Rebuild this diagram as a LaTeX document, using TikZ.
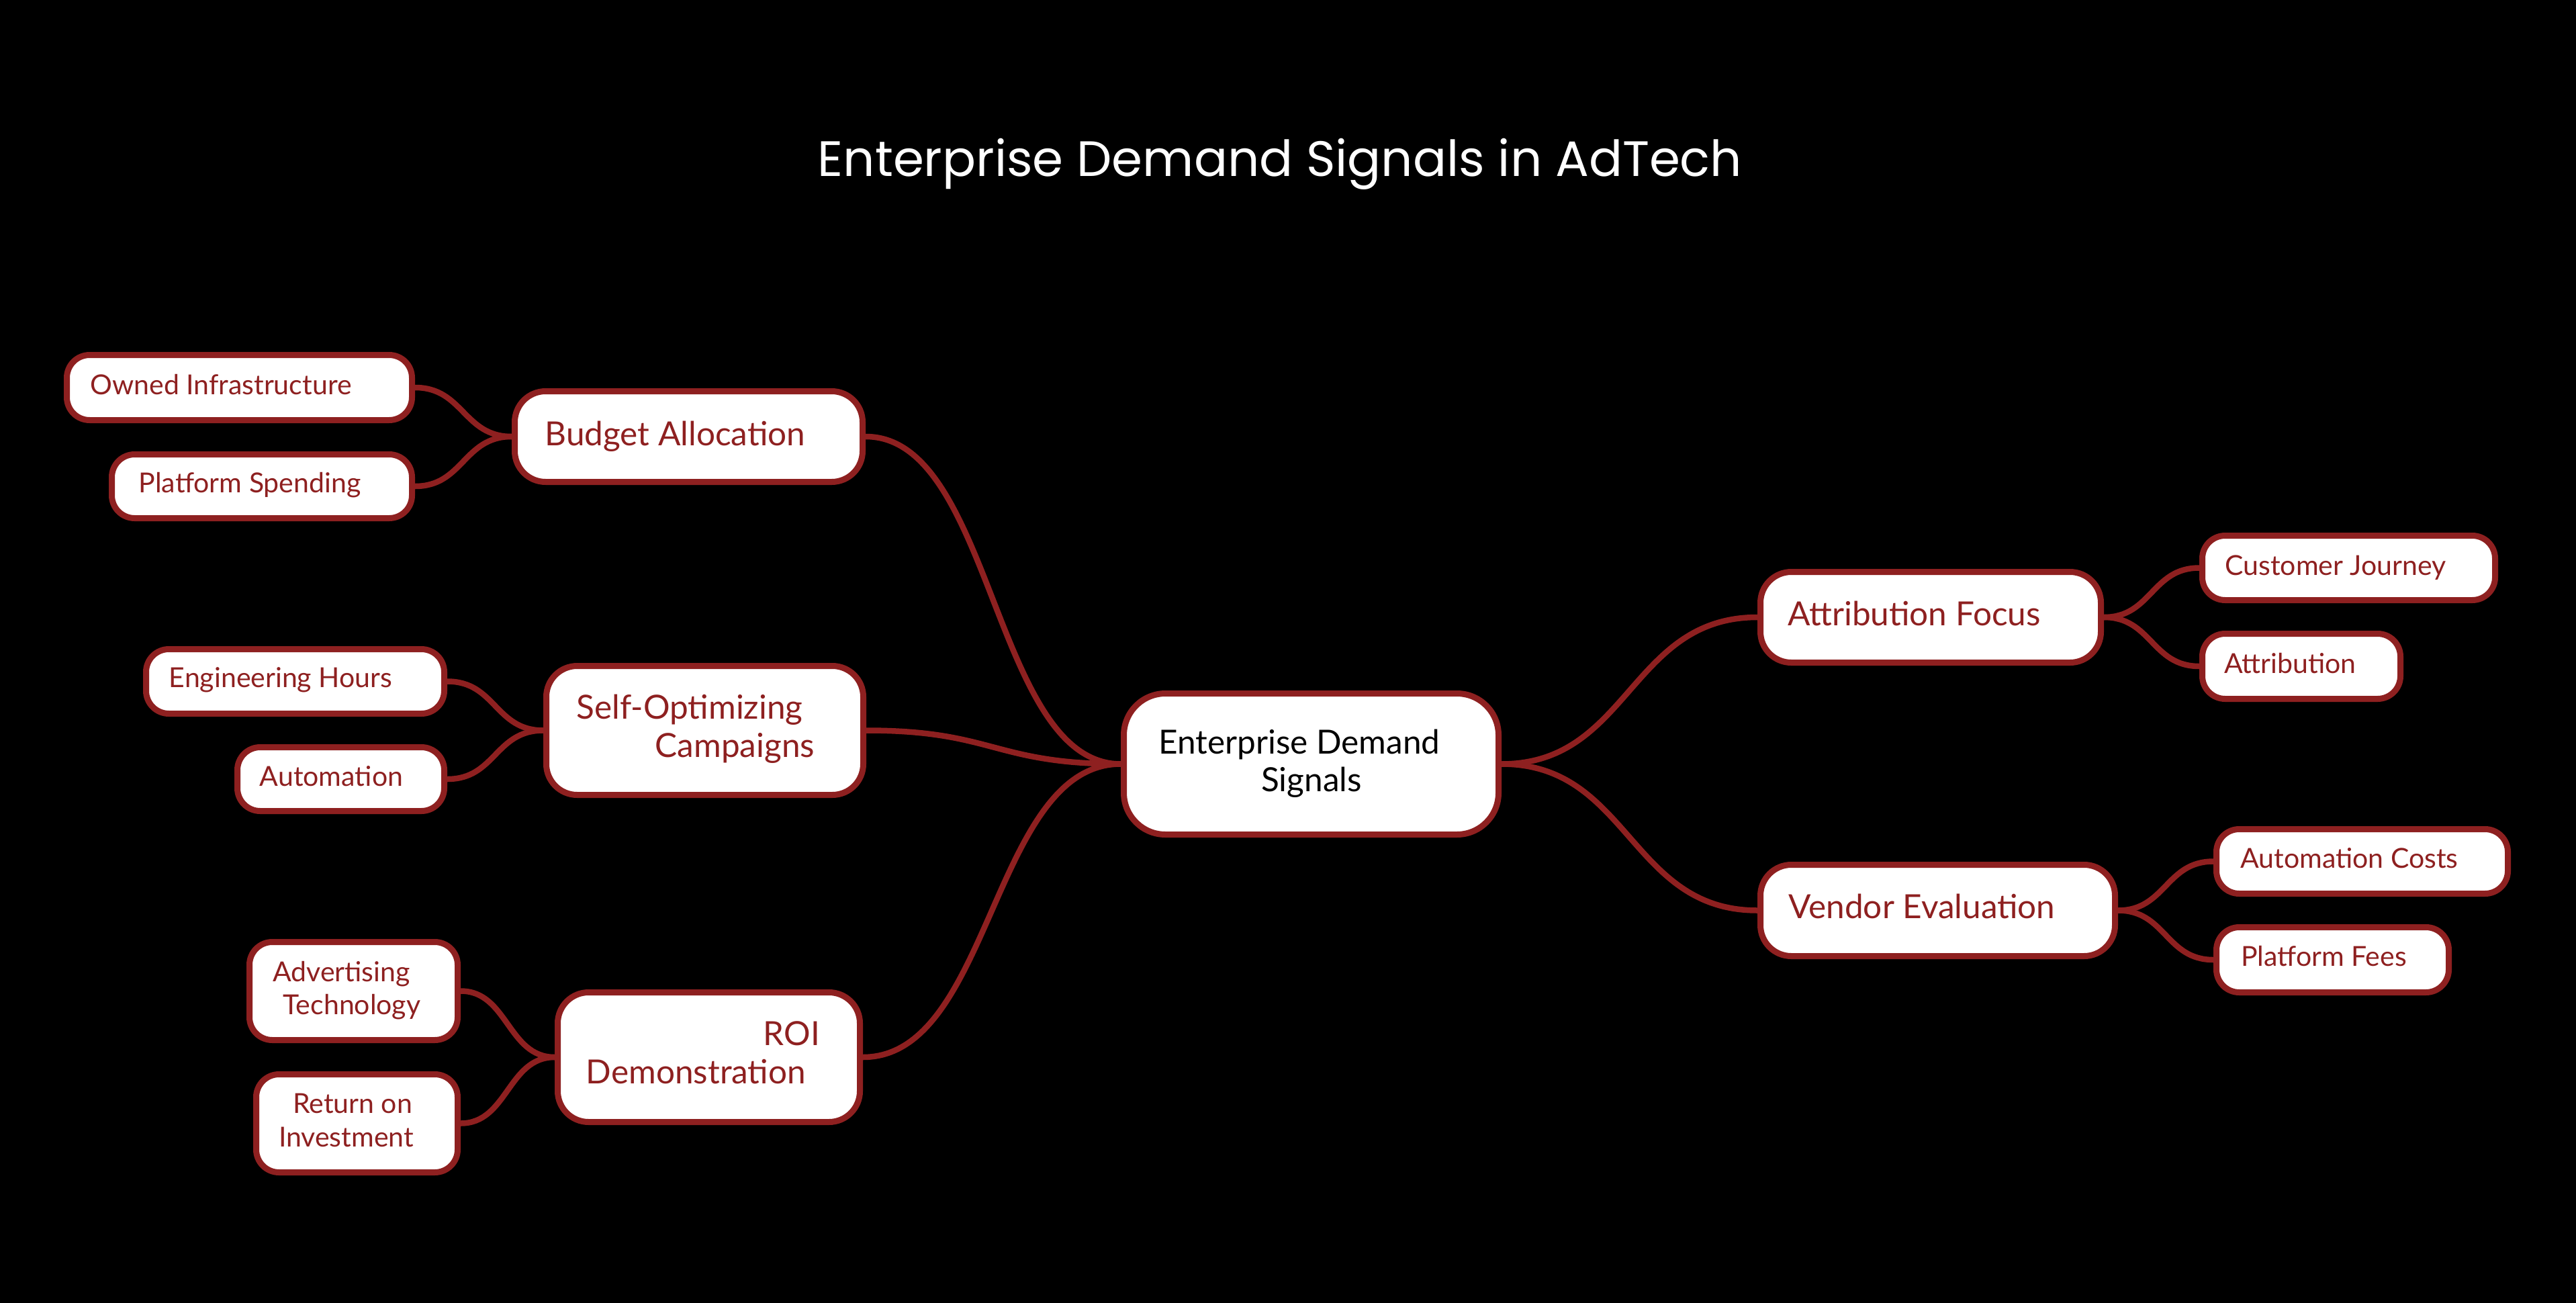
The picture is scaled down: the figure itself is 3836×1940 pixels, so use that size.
\documentclass[tikz,border=0pt]{standalone}
\usepackage{fontspec}
\setmainfont{Lato}
\newfontfamily\titlefont{Poppins}
\definecolor{mred}{RGB}{142,32,32}
\begin{document}
\begin{tikzpicture}[x=1pt,y=-1pt,
  rbox/.style={draw=mred,fill=white,line width=9pt,rounded corners=62pt,inner sep=0pt},
  mbox/.style={draw=mred,fill=white,line width=9pt,rounded corners=46pt,inner sep=0pt},
  sbox/.style={draw=mred,fill=white,line width=9pt,rounded corners=34pt,inner sep=0pt},
  conn/.style={draw=mred,line width=8.5pt},
  ltext/.style={anchor=base,inner sep=0pt,text=mred,font=\fontsize{49.5}{58}\selectfont},
  stext/.style={anchor=base,inner sep=0pt,text=mred,font=\fontsize{41}{49}\selectfont},
  rtext/.style={anchor=base,inner sep=0pt,text=black,font=\fontsize{49.5}{58}\selectfont}]
\fill[black] (0,0) rectangle (3836,1940);
\useasboundingbox (0,0) rectangle (3836,1940);
\node[anchor=base,text=white,inner sep=0pt,font=\titlefont\fontsize{74}{90}\selectfont] (title) at (1906,262) {Enterprise Demand Signals in AdTech};
\path
  (1952.5,1137.5) coordinate (p-root)
  (1025.5,650) coordinate (p-budget)
  (356.5,577) coordinate (p-owned)
  (390,724) coordinate (p-platform)
  (1049.5,1087.5) coordinate (p-selfopt)
  (439.5,1014.5) coordinate (p-eng)
  (507.5,1160) coordinate (p-auto)
  (1055.5,1574) coordinate (p-roi)
  (526.5,1475.5) coordinate (p-adv)
  (531.5,1672.5) coordinate (p-ret)
  (2875,919) coordinate (p-attr)
  (3497.5,845.5) coordinate (p-cust)
  (3427,992) coordinate (p-attrib)
  (2885.5,1355.5) coordinate (p-vendor)
  (3517.5,1282.5) coordinate (p-autoc)
  (3473.5,1429) coordinate (p-pfees);
\node[rbox,minimum width=558pt,minimum height=210pt] (root) at (p-root) {};
\node[mbox,minimum width=518pt,minimum height=135pt] (budget) at (p-budget) {};
\node[sbox,minimum width=514pt,minimum height=97pt] (owned) at (p-owned) {};
\node[sbox,minimum width=447pt,minimum height=95pt] (platform) at (p-platform) {};
\node[mbox,minimum width=472pt,minimum height=192pt] (selfopt) at (p-selfopt) {};
\node[sbox,minimum width=444pt,minimum height=96pt] (eng) at (p-eng) {};
\node[sbox,minimum width=308pt,minimum height=95pt] (auto) at (p-auto) {};
\node[mbox,minimum width=450pt,minimum height=193pt] (roi) at (p-roi) {};
\node[sbox,minimum width=310pt,minimum height=146pt] (adv) at (p-adv) {};
\node[sbox,minimum width=300pt,minimum height=146pt] (ret) at (p-ret) {};
\node[mbox,minimum width=507pt,minimum height=135pt] (attr) at (p-attr) {};
\node[sbox,minimum width=436pt,minimum height=96pt] (cust) at (p-cust) {};
\node[sbox,minimum width=295pt,minimum height=97pt] (attrib) at (p-attrib) {};
\node[mbox,minimum width=528pt,minimum height=136pt] (vendor) at (p-vendor) {};
\node[sbox,minimum width=434pt,minimum height=96pt] (autoc) at (p-autoc) {};
\node[sbox,minimum width=346pt,minimum height=97pt] (pfees) at (p-pfees) {};
% connectors
\draw[conn] (root.west) .. controls +(-190,0) and +(190,0) .. (budget.east);
\draw[conn] (root.west) .. controls +(-190,0) and +(190,0) .. (selfopt.east);
\draw[conn] (root.west) .. controls +(-192,0) and +(192,0) .. (roi.east);
\draw[conn] (root.east) .. controls +(190,0) and +(-190,0) .. (attr.west);
\draw[conn] (root.east) .. controls +(190,0) and +(-190,0) .. (vendor.west);
\draw[conn] (budget.west) .. controls +(-72,0) and +(72,0) .. (owned.east);
\draw[conn] (budget.west) .. controls +(-72,0) and +(72,0) .. (platform.east);
\draw[conn] (selfopt.west) .. controls +(-72,0) and +(72,0) .. (eng.east);
\draw[conn] (selfopt.west) .. controls +(-72,0) and +(72,0) .. (auto.east);
\draw[conn] (roi.west) .. controls +(-70,0) and +(70,0) .. (adv.east);
\draw[conn] (roi.west) .. controls +(-70,0) and +(70,0) .. (ret.east);
\draw[conn] (attr.east) .. controls +(71,0) and +(-71,0) .. (cust.west);
\draw[conn] (attr.east) .. controls +(71,0) and +(-71,0) .. (attrib.west);
\draw[conn] (vendor.east) .. controls +(71,0) and +(-71,0) .. (autoc.west);
\draw[conn] (vendor.east) .. controls +(71,0) and +(-71,0) .. (pfees.west);
% texts
\node[rtext] (t-root1) at (1935,1122) {Enterprise Demand};
\node[rtext] (t-root2) at (1953,1178) {Signals};
\node[ltext] (t-budget) at (1005.5,663) {Budget Allocation};
\node[stext] (t-owned) at (329,587) {Owned Infrastructure};
\node[stext] (t-platform) at (372,733) {Platform Spending};
\node[ltext] (t-selfopt1) at (1027,1070) {Self-Optimizing};
\node[ltext] (t-selfopt2) at (1094.5,1127) {Campaigns};
\node[stext] (t-eng) at (418,1023) {Engineering Hours};
\node[stext] (t-auto) at (493.5,1170) {Automation};
\node[ltext] (t-roi1) at (1179,1556) {ROI};
\node[ltext] (t-roi2) at (1036.5,1613) {Demonstration};
\node[stext] (t-adv1) at (508.5,1461) {Advertising};
\node[stext] (t-adv2) at (524,1510) {Technology};
\node[stext] (t-ret1) at (525,1657) {Return on};
\node[stext] (t-ret2) at (515.5,1707) {Investment};
\node[ltext] (t-attr) at (2850.5,931) {Attribution Focus};
\node[stext] (t-cust) at (3478,856) {Customer Journey};
\node[stext] (t-attrib) at (3410.5,1002) {Attribution};
\node[ltext] (t-vendor) at (2862,1367) {Vendor Evaluation};
\node[stext] (t-autoc) at (3498.5,1292) {Automation Costs};
\node[stext] (t-pfees) at (3460.5,1438) {Platform Fees};
\end{tikzpicture}
\end{document}
